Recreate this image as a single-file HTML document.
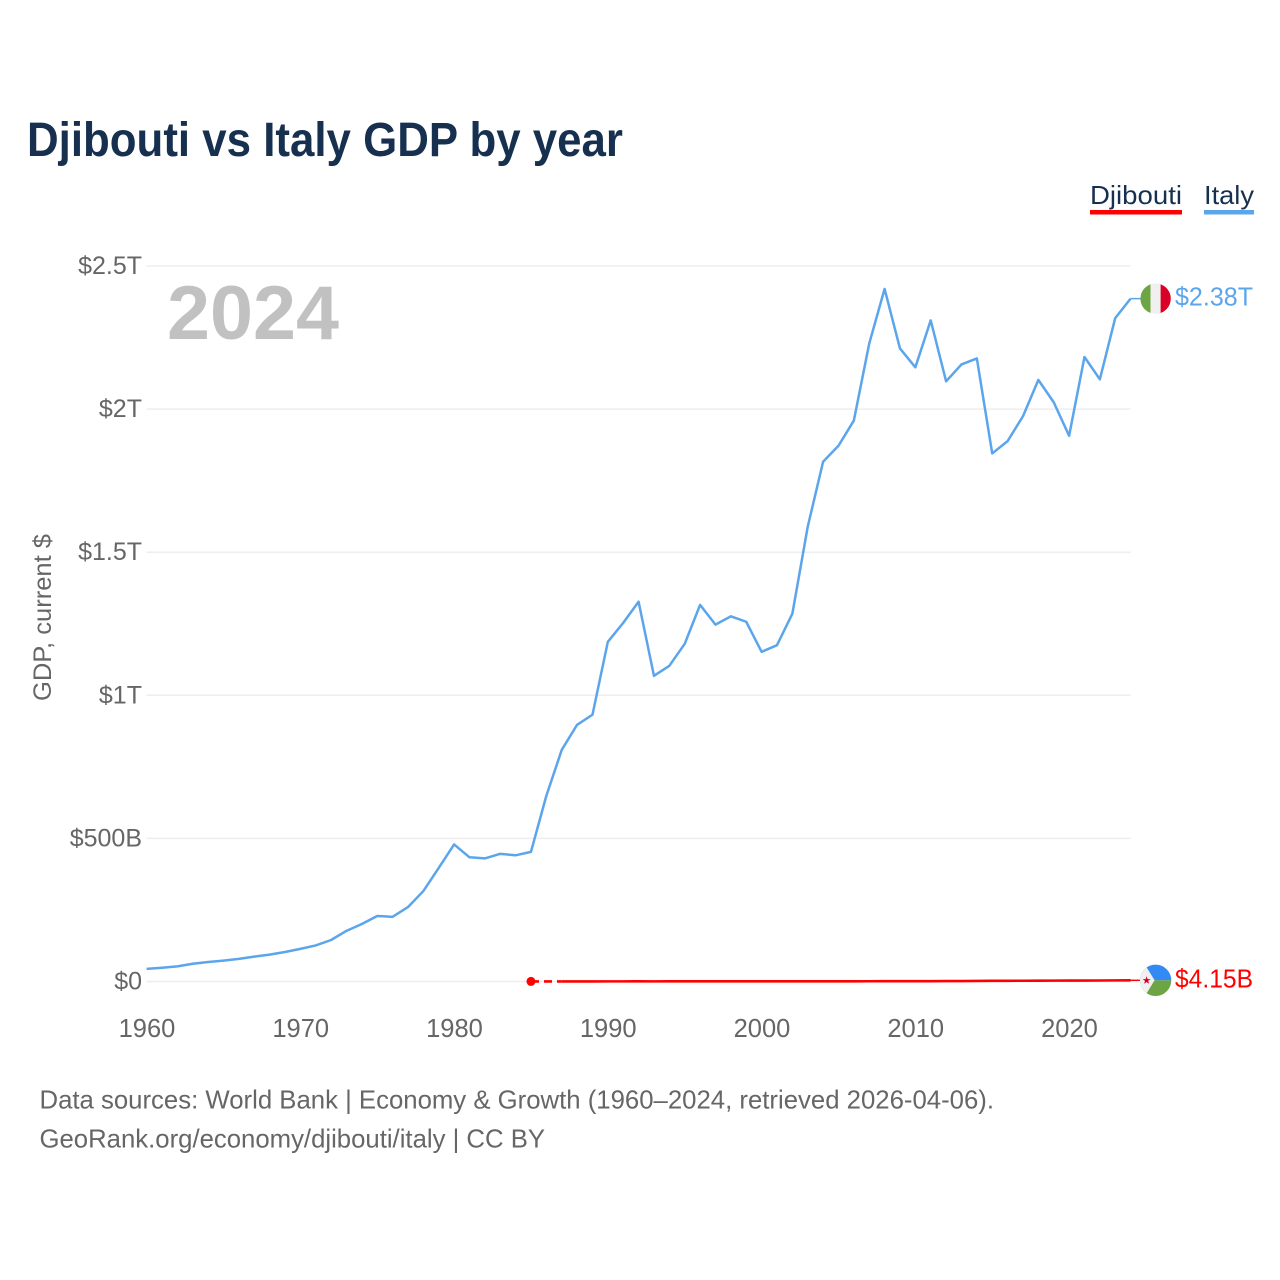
<!DOCTYPE html>
<html lang="en">
<head>
<meta charset="utf-8">
<title>Djibouti vs Italy GDP by year</title>
<style>
html,body{margin:0;padding:0;background:#fff;}
svg{display:block;font-family:"Liberation Sans",sans-serif;}
</style>
</head>
<body>
<svg id="chart" width="1280" height="1280" viewBox="0 0 1280 1280" xmlns="http://www.w3.org/2000/svg">
  <defs>
    <clipPath id="clip-italy"><circle cx="0" cy="0" r="15.2"></circle></clipPath>
    <clipPath id="clip-djibouti"><circle cx="0" cy="0" r="15.7"></circle></clipPath>
  </defs>
  <rect x="0" y="0" width="1280" height="1280" fill="#ffffff"></rect>
  <text x="27" y="156" font-size="48" font-weight="700" fill="#17304f" textLength="596" lengthAdjust="spacingAndGlyphs">Djibouti vs Italy GDP by year</text>

  <g>
    <g>
      <text x="1090" y="204" font-size="26" fill="#17304f" textLength="92" lengthAdjust="spacingAndGlyphs">Djibouti</text>
      <rect x="1090" y="210" width="92" height="4.5" fill="#ff0000"></rect>
    </g>
    <g>
      <text x="1204" y="204" font-size="26" fill="#17304f" textLength="50" lengthAdjust="spacingAndGlyphs">Italy</text>
      <rect x="1204" y="210" width="50" height="4.5" fill="#5ba5ec"></rect>
    </g>
  </g>

  <g id="grid"></g>
  <g id="y-ticks"></g>
  <g id="x-ticks"></g>

  <text x="167" y="339" font-size="76" font-weight="700" fill="#c1c1c1" textLength="172" lengthAdjust="spacingAndGlyphs">2024</text>
  <text transform="translate(51 701) rotate(-90)" x="0" y="0" font-size="25" fill="#666666" textLength="167" lengthAdjust="spacingAndGlyphs">GDP, current $</text>

  <g id="series"></g>

  <g id="flag-italy" clip-path="url(#clip-italy)">
    <rect x="-16" y="-16" width="11" height="32" fill="#6da544"></rect>
    <rect x="-5" y="-16" width="10" height="32" fill="#f0f0f0"></rect>
    <rect x="5" y="-16" width="11" height="32" fill="#d80027"></rect>
  </g>
  <g id="flag-djibouti" clip-path="url(#clip-djibouti)">
    <rect x="-17" y="-17" width="34" height="17" fill="#338af3"></rect>
    <rect x="-17" y="0" width="34" height="17" fill="#6da544"></rect>
    <polygon points="-1,0 -17,-26 -17,26" fill="#f0f0f0"></polygon>
    <polygon points="-9,-4 -8,-1.2 -5,-1.2 -7.4,0.6 -6.5,3.5 -9,1.8 -11.5,3.5 -10.6,0.6 -13,-1.2 -10,-1.2" fill="#d80027"></polygon>
  </g>

  <text id="end-label-italy" x="1175" font-size="25.5" fill="#5ba5ec" textLength="78" lengthAdjust="spacingAndGlyphs"></text>
  <text id="end-label-djibouti" x="1175" font-size="25.5" fill="#ff0000" textLength="78" lengthAdjust="spacingAndGlyphs"></text>

  <text x="39.5" y="1108.5" font-size="26" fill="#666666" textLength="954.5" lengthAdjust="spacingAndGlyphs">Data sources: World Bank | Economy &amp; Growth (1960–2024, retrieved 2026-04-06).</text>
  <text x="39.5" y="1147.5" font-size="26" fill="#666666" textLength="505.5" lengthAdjust="spacingAndGlyphs">GeoRank.org/economy/djibouti/italy | CC BY</text>
</svg>
<script>
// Chart data (GDP in billions of current US$)
const italyYears = [1960,1961,1962,1963,1964,1965,1966,1967,1968,1969,1970,1971,1972,1973,1974,1975,1976,1977,1978,1979,1980,1981,1982,1983,1984,1985,1986,1987,1988,1989,1990,1991,1992,1993,1994,1995,1996,1997,1998,1999,2000,2001,2002,2003,2004,2005,2006,2007,2008,2009,2010,2011,2012,2013,2014,2015,2016,2017,2018,2019,2020,2021,2022,2023,2024];
const italyValues = [44,48,53,62,68,73,79,87,94,103,114,126,145,177,201,229,226,260,316,397,479,434,430,446,441,453,649,809,897,932,1187,1253,1327,1068,1103,1180,1316,1247,1276,1257,1152,1175,1285,1589,1816,1872,1960,2229,2420,2212,2146,2310,2097,2156,2177,1845,1888,1975,2102,2024,1907,2182,2104,2318,2386];
const djiboutiYears = [1985,1987,1988,1989,1990,1991,1992,1993,1994,1995,1996,1997,1998,1999,2000,2001,2002,2003,2004,2005,2006,2007,2008,2009,2010,2011,2012,2013,2014,2015,2016,2017,2018,2019,2020,2021,2022,2023,2024];
const djiboutiValues = [0.34,0.37,0.38,0.40,0.45,0.46,0.48,0.47,0.48,0.50,0.50,0.50,0.50,0.54,0.55,0.57,0.59,0.62,0.67,0.71,0.77,0.85,0.98,1.05,1.13,1.24,1.35,1.53,1.85,2.42,2.51,2.66,2.76,3.09,3.18,3.37,3.51,3.90,4.15];
const yTickValues = [0,500,1000,1500,2000,2500];
const yTickLabels = ["$0","$500B","$1T","$1.5T","$2T","$2.5T"];
const xTickValues = [1960,1970,1980,1990,2000,2010,2020];
const xTickLabels = ["1960","1970","1980","1990","2000","2010","2020"];
const endLabelItaly = "$2.38T";
const endLabelDjibouti = "$4.15B";

// Axis functions
const X0 = 146.6, X1 = 1130.6, XMIN = 1960, XMAX = 2024;
const Y0 = 981.5, Y1 = 266, VMIN = 0, VMAX = 2500;
function xScale(year){ return X0 + (year - XMIN) * (X1 - X0) / (XMAX - XMIN); }
function yScale(v){ return Y0 + (v - VMIN) * (Y1 - Y0) / (VMAX - VMIN); }

const NS = "http://www.w3.org/2000/svg";
function make(tag, parent){
  const el = document.createElementNS(NS, tag);
  parent.appendChild(el);
  return el;
}
function pointsOf(xs, vs){
  return xs.map(function(year, i){ return xScale(year).toFixed(2) + "," + yScale(vs[i]).toFixed(2); }).join(" ");
}

const grid = document.getElementById("grid");
const yTicks = document.getElementById("y-ticks");
const xTicks = document.getElementById("x-ticks");
const series = document.getElementById("series");

yTickValues.forEach(function(v, i){
  const line = make("line", grid);
  
  
  line.setAttribute("x1", X0);
  line.setAttribute("x2", X1);
  line.setAttribute("y1", yScale(v));
  line.setAttribute("y2", yScale(v));
  line.setAttribute("stroke", "#eeeeee");
  line.setAttribute("stroke-width", "1.5");

  const label = make("text", yTicks);
  
  
  label.setAttribute("x", 142);
  label.setAttribute("y", yScale(v) + 8);
  label.setAttribute("text-anchor", "end");
  label.setAttribute("font-size", "25");
  label.setAttribute("fill", "#666666");
  label.textContent = yTickLabels[i];
});

xTickValues.forEach(function(year, i){
  const label = make("text", xTicks);
  
  
  label.setAttribute("x", xScale(year) + 0.4);
  label.setAttribute("y", 1037);
  label.setAttribute("text-anchor", "middle");
  label.setAttribute("font-size", "25.5");
  label.setAttribute("fill", "#666666");
  label.textContent = xTickLabels[i];
});

// Italy line
const italyLine = make("polyline", series);


italyLine.setAttribute("points", pointsOf(italyYears, italyValues));
italyLine.setAttribute("fill", "none");
italyLine.setAttribute("stroke", "#5ba5ec");
italyLine.setAttribute("stroke-width", "2.5");
italyLine.setAttribute("stroke-linejoin", "round");

const italyLast = italyValues[italyValues.length - 1];
const italyConnector = make("line", series);


italyConnector.setAttribute("x1", xScale(XMAX));
italyConnector.setAttribute("x2", xScale(XMAX) + 10);
italyConnector.setAttribute("y1", yScale(italyLast));
italyConnector.setAttribute("y2", yScale(italyLast));
italyConnector.setAttribute("stroke", "#5ba5ec");
italyConnector.setAttribute("stroke-width", "1.5");

// Djibouti: dashed across the 1986 data gap, solid afterwards
const djGap = make("line", series);


djGap.setAttribute("x1", xScale(djiboutiYears[0]));
djGap.setAttribute("x2", xScale(djiboutiYears[1]));
djGap.setAttribute("y1", yScale(djiboutiValues[0]));
djGap.setAttribute("y2", yScale(djiboutiValues[1]));
djGap.setAttribute("stroke", "#ff0000");
djGap.setAttribute("stroke-width", "2.6");
djGap.setAttribute("stroke-dasharray", "8 5");

const djLine = make("polyline", series);


djLine.setAttribute("points", pointsOf(djiboutiYears.slice(1), djiboutiValues.slice(1)));
djLine.setAttribute("fill", "none");
djLine.setAttribute("stroke", "#ff0000");
djLine.setAttribute("stroke-width", "2.6");

const djDot = make("circle", series);


djDot.setAttribute("cx", xScale(djiboutiYears[0]));
djDot.setAttribute("cy", yScale(djiboutiValues[0]));
djDot.setAttribute("r", "4.5");
djDot.setAttribute("fill", "#ff0000");

const djLast = djiboutiValues[djiboutiValues.length - 1];
const djConnector = make("line", series);


djConnector.setAttribute("x1", xScale(XMAX));
djConnector.setAttribute("x2", xScale(XMAX) + 10);
djConnector.setAttribute("y1", yScale(djLast));
djConnector.setAttribute("y2", yScale(djLast));
djConnector.setAttribute("stroke", "#ff0000");
djConnector.setAttribute("stroke-width", "1.5");

// Flags and end labels follow the last value of each series
document.getElementById("flag-italy").setAttribute("transform", "translate(" + (xScale(XMAX) + 25) + " " + yScale(italyLast) + ")");
document.getElementById("flag-djibouti").setAttribute("transform", "translate(" + (xScale(XMAX) + 25) + " " + yScale(djLast) + ")");
const endItaly = document.getElementById("end-label-italy");
endItaly.setAttribute("y", yScale(italyLast) + 7);
endItaly.textContent = endLabelItaly;
const endDjibouti = document.getElementById("end-label-djibouti");
endDjibouti.setAttribute("y", yScale(djLast) + 7);
endDjibouti.textContent = endLabelDjibouti;
</script>
</body>
</html>
